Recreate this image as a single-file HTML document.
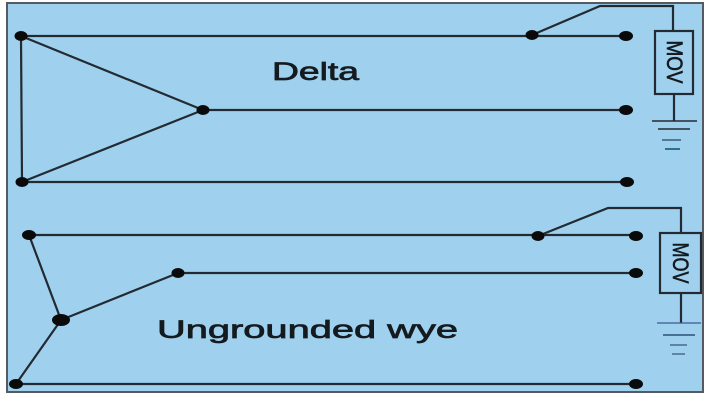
<!DOCTYPE html>
<html>
<head>
<meta charset="utf-8">
<style>
  html, body { margin:0; padding:0; background:#ffffff; }
  body { width:706px; height:400px; overflow:hidden; }
  svg { display:block; }
  text { font-family: "Liberation Sans", sans-serif; }
</style>
</head>
<body>
<svg width="706" height="400" viewBox="0 0 706 400" xmlns="http://www.w3.org/2000/svg">
  <rect x="0" y="0" width="706" height="400" fill="#ffffff"/>
  <rect x="7" y="3" width="696" height="389" fill="#9fd1ef" stroke="#555a60" stroke-width="2"/>

  <!-- ===== Delta ===== -->
  <g stroke="#232a31" stroke-width="2.2" fill="none">
    <line x1="21" y1="36" x2="627" y2="36"/>
    <line x1="203" y1="110" x2="627" y2="110"/>
    <line x1="22" y1="182" x2="627" y2="182"/>
    <line x1="21" y1="36" x2="22" y2="182"/>
    <line x1="21" y1="36" x2="203" y2="110"/>
    <line x1="22" y1="182" x2="203" y2="110"/>
    <!-- switch -->
    <polyline points="532,35 600,6 673,6 673,31"/>
    <!-- MOV box -->
    <rect x="655" y="31" width="38" height="63"/>
    <line x1="674" y1="94" x2="674" y2="121"/>
    <line x1="652" y1="121" x2="697" y2="121" stroke-width="1.5"/>
    <line x1="658" y1="129" x2="690" y2="129" stroke-width="1.5"/>
    <line x1="662" y1="140" x2="681" y2="140" stroke-width="1.5" stroke="#3a5a78"/>
    <line x1="665" y1="149" x2="680" y2="149" stroke-width="2" stroke="#2f6f95"/>
  </g>
  <g fill="#0a0a0a">
    <ellipse cx="21" cy="36" rx="6.5" ry="5"/>
    <ellipse cx="22" cy="182" rx="6.5" ry="5"/>
    <ellipse cx="203" cy="110" rx="6.5" ry="5"/>
    <ellipse cx="532" cy="35" rx="6.5" ry="5"/>
    <ellipse cx="626" cy="36" rx="7" ry="5"/>
    <ellipse cx="626" cy="110" rx="7" ry="5"/>
    <ellipse cx="627" cy="182" rx="7" ry="5"/>
  </g>
  <text x="272" y="80" font-size="25" fill="#151a1f" stroke="#151a1f" stroke-width="0.7" textLength="87" lengthAdjust="spacingAndGlyphs">Delta</text>
  <text transform="translate(675,62) rotate(90) scale(1,1.6)" x="0" y="0" font-size="14" fill="#151a1f" stroke="#151a1f" stroke-width="0.4" text-anchor="middle" dominant-baseline="central" textLength="43" lengthAdjust="spacingAndGlyphs">MOV</text>

  <!-- ===== Ungrounded wye ===== -->
  <g stroke="#232a31" stroke-width="2.2" fill="none">
    <line x1="29" y1="235" x2="637" y2="235"/>
    <line x1="178" y1="273" x2="637" y2="273"/>
    <line x1="16" y1="384" x2="637" y2="384"/>
    <line x1="61" y1="320" x2="29" y2="235"/>
    <line x1="61" y1="320" x2="178" y2="273"/>
    <line x1="61" y1="320" x2="16" y2="384"/>
    <!-- switch -->
    <polyline points="538,236 608,208 681,208 681,233"/>
    <!-- MOV box -->
    <rect x="660" y="233" width="41" height="60"/>
    <line x1="681" y1="293" x2="681" y2="323"/>
    <line x1="657" y1="323" x2="701" y2="323" stroke-width="1.2" stroke="#3a5a90"/>
    <line x1="663" y1="335" x2="695" y2="335" stroke-width="1.5" stroke="#2f4f78"/>
    <line x1="670" y1="345" x2="687" y2="345" stroke-width="1.5" stroke="#4a6a88"/>
    <line x1="672" y1="354" x2="685" y2="354" stroke-width="1.5" stroke="#4a6a88"/>
  </g>
  <g fill="#0a0a0a">
    <ellipse cx="29" cy="235" rx="7" ry="5"/>
    <ellipse cx="178" cy="273" rx="6.5" ry="5"/>
    <ellipse cx="61" cy="320" rx="9" ry="6"/>
    <ellipse cx="16" cy="384" rx="7" ry="5"/>
    <ellipse cx="538" cy="236" rx="6.5" ry="5"/>
    <ellipse cx="636" cy="236" rx="7" ry="5"/>
    <ellipse cx="636" cy="273" rx="7" ry="5"/>
    <ellipse cx="636" cy="384" rx="7" ry="5"/>
  </g>
  <text x="157" y="338" font-size="25" fill="#151a1f" stroke="#151a1f" stroke-width="0.7" textLength="301" lengthAdjust="spacingAndGlyphs">Ungrounded wye</text>
  <text transform="translate(681,263) rotate(90) scale(1,1.6)" x="0" y="0" font-size="14" fill="#151a1f" stroke="#151a1f" stroke-width="0.4" text-anchor="middle" dominant-baseline="central" textLength="41" lengthAdjust="spacingAndGlyphs">MOV</text>
</svg>
</body>
</html>
